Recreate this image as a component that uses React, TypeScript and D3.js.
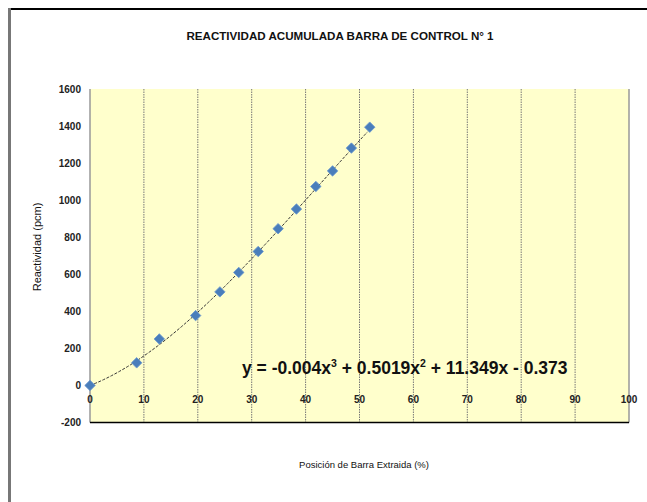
import React from "react";
import * as d3 from "d3";

const posX = [0, 8.66, 12.86, 19.6, 24.1, 27.6, 31.2, 34.9, 38.3, 41.9, 45.0, 48.5, 51.9];
const reactY = [0, 122, 251, 377, 505, 610, 723, 846, 952, 1074, 1158, 1281, 1394];
const fitCoef = [-0.004, 0.5019, 11.349, -0.373];
const xTicks = [0, 10, 20, 30, 40, 50, 60, 70, 80, 90, 100];
const yTicks = [-200, 0, 200, 400, 600, 800, 1000, 1200, 1400, 1600];
const title = "REACTIVIDAD ACUMULADA  BARRA DE CONTROL N° 1";
const xTitle = "Posición  de Barra Extraida (%)";
const yTitle = "Reactividad  (pcm)";

export default function App() {
  const W = 647, H = 502;
  const left = 90, right = 629, top = 89, bottom = 422.5;
  const x = d3.scaleLinear().domain([0, 100]).range([left, right]);
  const y = d3.scaleLinear().domain([-200, 1600]).range([bottom, top]);
  const fit = (v: number) => fitCoef[0] * v ** 3 + fitCoef[1] * v ** 2 + fitCoef[2] * v + fitCoef[3];
  const xs = d3.range(0, posX[posX.length - 1] + 0.01, 0.5);
  const line = d3.line<number>().x((d) => x(d)).y((d) => y(fit(d)));
  const font = "'Liberation Sans', Arial, sans-serif";
  const diamond = d3.symbol().type(d3.symbolDiamond2).size(70)();
  return (
    <svg width={W} height={H} style={{ position: "absolute", left: 0, top: 0, background: "#fff" }} fontFamily={font}>
      <rect x={0} y={0} width={W} height={H} fill="#fff" />
      <line x1={8} x2={W} y1={9} y2={9} stroke="#000" strokeWidth={2} />
      <line x1={9.5} x2={9.5} y1={8} y2={H} stroke="#777" strokeWidth={3} />
      <text x={340} y={40} textAnchor="middle" fontSize={11.6} fontWeight="bold" fill="#111">{title}</text>
      <rect x={left} y={top} width={right - left} height={bottom - top} fill="#FFFFCC" />
      {xTicks.slice(1, -1).map((t) => (
        <line key={t} x1={x(t)} x2={x(t)} y1={top} y2={bottom} stroke="#777" strokeWidth={1} strokeDasharray="1.5 1" />
      ))}
      <line x1={right} x2={right} y1={top} y2={bottom} stroke="#999" strokeWidth={1.5} />
      <line x1={left} x2={left} y1={top} y2={bottom} stroke="#999" strokeWidth={1.5} />
      <line x1={left} x2={right} y1={bottom} y2={bottom} stroke="#000" strokeWidth={1.5} />
      {yTicks.map((t) => (
        <text key={t} x={81} y={y(t) + 3.5} textAnchor="end" fontSize={10} fontWeight="bold" fill="#222">{t}</text>
      ))}
      {xTicks.map((t) => (
        <text key={t} x={x(t)} y={403} textAnchor="middle" fontSize={10} fontWeight="bold" fill="#222">{t}</text>
      ))}
      <path d={line(xs) || ""} fill="none" stroke="#333" strokeWidth={1} strokeDasharray="3 1.5" />
      {posX.map((v, i) => (
        <path key={i} d={diamond || ""} transform={`translate(${x(v)},${y(reactY[i])})`} fill="#4A7EBB" stroke="#6A98CF" strokeWidth={0.8} />
      ))}
      <text x={242} y={374} fontSize={17.5} fontWeight="bold" fill="#111">
        y = -0.004x<tspan fontSize={10.5} dy={-7}>3</tspan><tspan dy={7}> + 0.5019x</tspan><tspan fontSize={10.5} dy={-7}>2</tspan><tspan dy={7}> + 11.349x - 0.373</tspan>
      </text>
      <text x={364} y={468} textAnchor="middle" fontSize={9.5} fill="#111">{xTitle}</text>
      <text transform={`translate(41,247) rotate(-90)`} textAnchor="middle" fontSize={11} fill="#111">{yTitle}</text>
    </svg>
  );
}
